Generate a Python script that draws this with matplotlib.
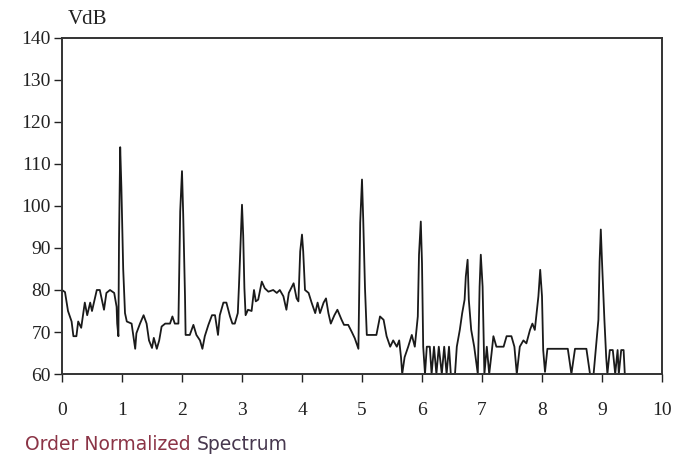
import matplotlib as mpl
import matplotlib.pyplot as plt

mpl.rcParams['font.family'] = ['Liberation Serif', 'DejaVu Serif']

# order (x) and level in VdB (y)
ORDER = [
    0.0, 0.05, 0.1, 0.16, 0.19, 0.24, 0.27, 0.32, 0.38, 0.42, 0.47, 0.5,
    0.58, 0.63, 0.66, 0.7, 0.74, 0.8, 0.87, 0.91, 0.92, 0.94, 0.95, 0.97,
    0.99, 1.01, 1.02, 1.05, 1.08, 1.16, 1.22, 1.24, 1.3, 1.36, 1.41, 1.45,
    1.5, 1.53, 1.58, 1.62, 1.66, 1.72, 1.8, 1.84, 1.88, 1.94, 1.95, 1.97,
    2.0, 2.02, 2.05, 2.06, 2.13, 2.19, 2.24, 2.3, 2.34, 2.38, 2.44, 2.5,
    2.55, 2.6, 2.63, 2.69, 2.74, 2.8, 2.84, 2.88, 2.93, 2.95, 2.98, 3.0,
    3.02, 3.04, 3.06, 3.1, 3.16, 3.2, 3.23, 3.27, 3.33, 3.38, 3.44, 3.52,
    3.58, 3.63, 3.69, 3.74, 3.78, 3.86, 3.91, 3.94, 3.97, 4.0, 4.02, 4.05,
    4.11, 4.16, 4.22, 4.26, 4.3, 4.36, 4.4, 4.44, 4.48, 4.54, 4.59, 4.66,
    4.7, 4.77, 4.83, 4.88, 4.94, 4.95, 4.97, 5.0, 5.02, 5.05, 5.08, 5.16,
    5.24, 5.3, 5.36, 5.41, 5.47, 5.52, 5.58, 5.62, 5.65, 5.67, 5.71, 5.77,
    5.83, 5.88, 5.93, 5.95, 5.98, 6.0, 6.02, 6.05, 6.08, 6.13, 6.16, 6.2,
    6.24, 6.28, 6.33, 6.37, 6.41, 6.45, 6.48, 6.55, 6.58, 6.63, 6.67, 6.71,
    6.73, 6.76, 6.78, 6.82, 6.87, 6.93, 6.96, 6.98, 7.01, 7.04, 7.08, 7.12,
    7.16, 7.19, 7.24, 7.36, 7.41, 7.49, 7.54, 7.58, 7.63, 7.69, 7.74, 7.8,
    7.84, 7.88, 7.91, 7.94, 7.97, 8.0, 8.02, 8.05, 8.09, 8.43, 8.49, 8.55,
    8.74, 8.8, 8.86, 8.9, 8.94, 8.96, 8.98, 9.0, 9.04, 9.07, 9.09, 9.13,
    9.18, 9.22, 9.26, 9.28, 9.32, 9.36, 9.38,
]
VDB = [
    80, 79.5, 75, 72.5, 69, 69, 72.5, 71, 77, 74, 77, 75,
    80, 80, 78, 75.3, 79.3, 80, 79.3, 76, 72, 69, 91.6, 114,
    104.3, 92, 85, 74.5, 72.5, 72, 66, 69.7, 72, 74, 72, 68,
    66.2, 68.6, 66, 68, 71.3, 72, 72, 73.7, 72, 72, 80.8, 98.7,
    108.3, 98, 78.5, 69.3, 69.3, 71.7, 69.3, 68, 66, 69, 71.7, 74,
    74, 69.3, 74, 77, 77, 73.7, 72, 72, 74.5, 81.2, 93, 100.3,
    93, 80.4, 74, 75.3, 75, 80, 77.3, 77.7, 82, 80.4, 79.6, 80,
    79.3, 80, 78.5, 75.3, 79.3, 81.6, 78, 77.3, 89.2, 93.2, 89.2, 80,
    79.3, 77, 74.5, 77, 74.5, 77, 78, 74.5, 72, 74, 75.3, 72.9,
    71.7, 71.7, 70, 68.5, 66, 76, 96, 106.3, 97, 80.4, 69.3, 69.3,
    69.3, 73.7, 72.9, 69, 66.5, 68, 66.5, 68, 64, 60, 64, 66.5,
    69.3, 66.5, 73.7, 88.4, 96.3, 86.4, 66.5, 60, 66.5, 66.5, 60, 66.5,
    60, 66.5, 60, 66.5, 60, 66.5, 60, 60, 66.5, 70.5, 74.5, 77.7,
    83.2, 87.2, 77.7, 70.5, 66.5, 60, 80.8, 88.4, 80.8, 60, 66.5, 60,
    65, 69, 66.5, 66.5, 69, 69, 66.5, 60, 66.5, 68, 67.3, 70.5,
    72, 70.5, 74.5, 78.5, 84.8, 78.5, 65.7, 60.5, 66, 66, 60, 66,
    66, 60, 60, 66.5, 72.9, 86.8, 94.4, 86.8, 72.9, 64, 60, 65.7,
    65.7, 60, 65.7, 60, 65.7, 65.7, 60,
]
X_TICKS = [0, 1, 2, 3, 4, 5, 6, 7, 8, 9, 10]
Y_TICKS = [60, 70, 80, 90, 100, 110, 120, 130, 140]

fig = plt.figure(figsize=(6.88, 4.61), dpi=100)
ax = fig.add_axes([62 / 688, 1 - 374 / 461, 600 / 688, 336 / 461])

ax.plot(ORDER, VDB, color='#1a1a1a', linewidth=1.3, clip_on=False)

ax.set_xlim(0, 10)
ax.set_ylim(60, 140)
ax.set_xticks(X_TICKS)
ax.set_yticks(Y_TICKS)
ax.tick_params(axis='x', direction='out', length=6, width=1, pad=14, labelsize=14, colors='#222222')
ax.tick_params(axis='y', direction='out', length=6, width=1, pad=2, labelsize=14, colors='#222222')
for side in ['left', 'right', 'top', 'bottom']:
    ax.spines[side].set_color('#333333')
    ax.spines[side].set_linewidth(1.4)

fig.text(68 / 688, 1 - 19 / 461, 'VdB', fontsize=15, va='center', ha='left', color='#222222')

# two-colour caption under the chart
cap = fig.text(25 / 688, 1 - 444 / 461, 'Order Normalized ', fontsize=13.5,
               family='DejaVu Sans', va='center', ha='left', color='#8b3446')
fig.canvas.draw()
bb = cap.get_window_extent()
fig.text(bb.x1 / 688, 1 - 444 / 461, 'Spectrum', fontsize=13.5,
         family='DejaVu Sans', va='center', ha='left', color='#47384f')

fig.savefig('out.png', dpi=100)
